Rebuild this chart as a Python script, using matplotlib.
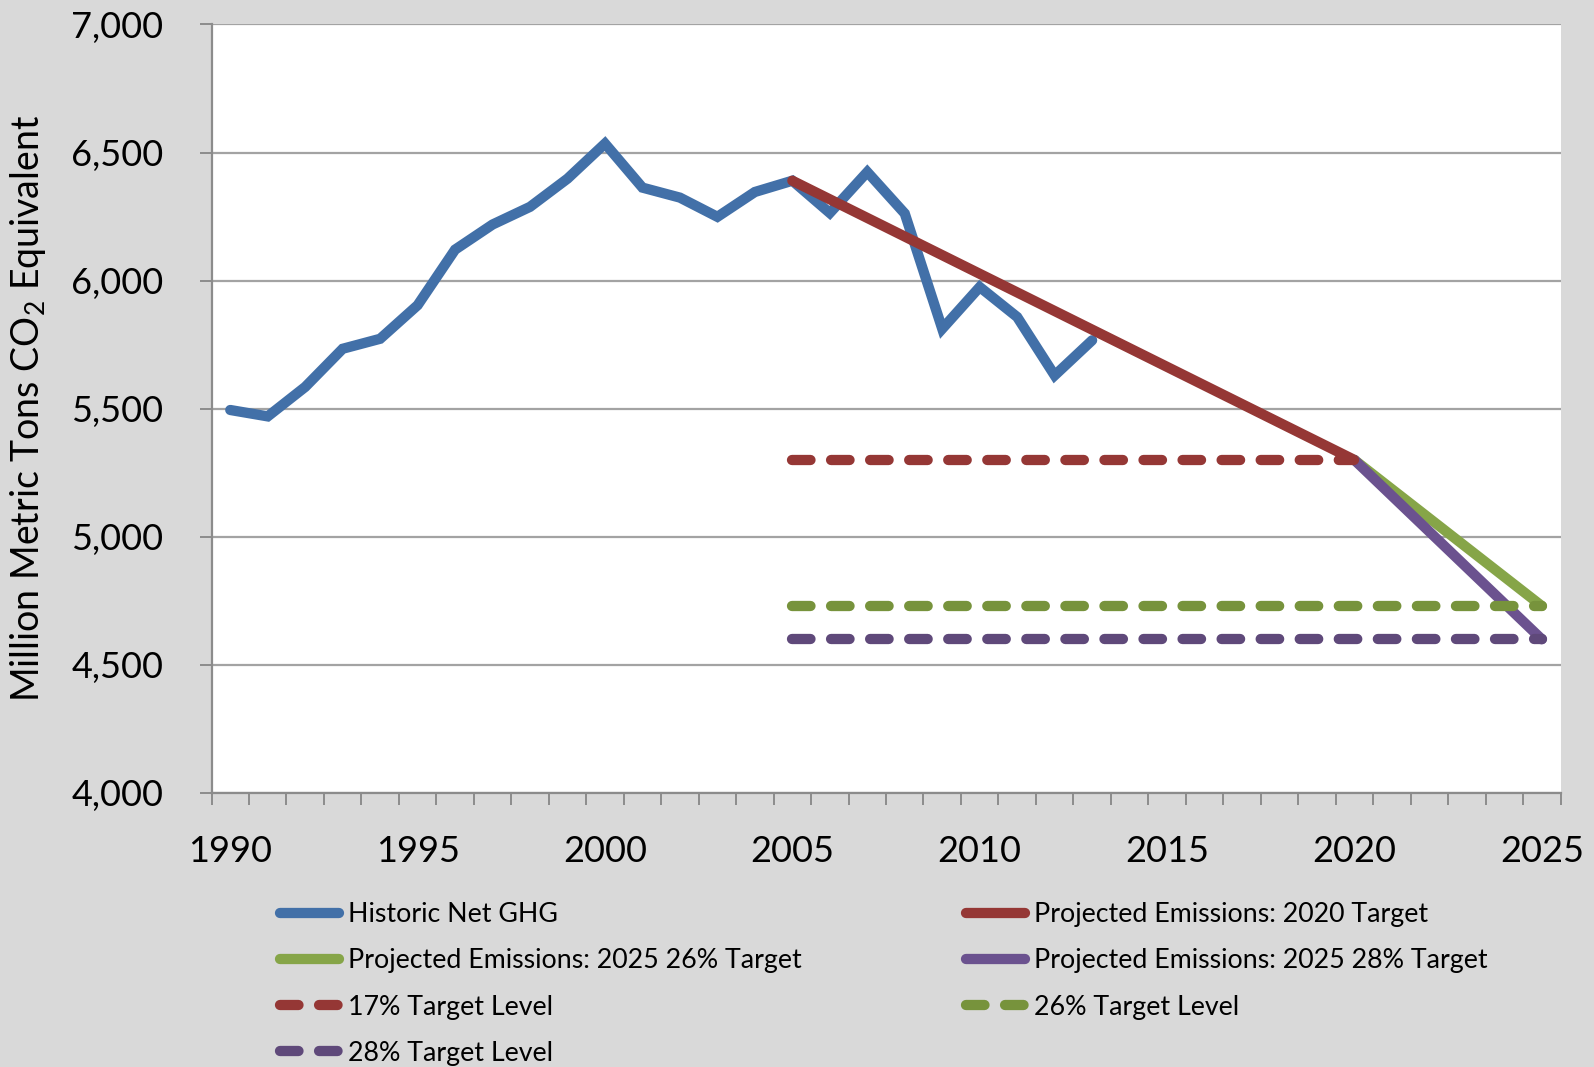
import numpy as np
import matplotlib
matplotlib.use("Agg")
import matplotlib.pyplot as plt
from matplotlib.ticker import FuncFormatter, MultipleLocator

plt.rcParams['font.family'] = ['Lato', 'DejaVu Sans']
plt.rcParams['mathtext.fontset'] = 'custom'
plt.rcParams['mathtext.rm'] = 'Lato'

# data (million metric tons CO2 eq.)
hist_years = list(range(1990, 2014))
hist_values = [5495, 5470, 5585, 5734, 5773, 5904, 6121, 6219, 6288, 6398,
               6535, 6363, 6324, 6249, 6346, 6390, 6264, 6424, 6262, 5812,
               5975, 5858, 5630, 5767]

proj2020_years = [2005, 2020]
proj2020_values = [6390, 5300]

proj26_years = [2020, 2025]
proj26_values = [5300, 4730]

proj28_years = [2020, 2025]
proj28_values = [5300, 4600]

lvl17_years = [2005, 2020]
lvl17_values = [5300, 5300]
lvl26_years = [2005, 2025]
lvl26_values = [4730, 4730]
lvl28_years = [2005, 2025]
lvl28_values = [4600, 4600]

year_labels = [1990, 1995, 2000, 2005, 2010, 2015, 2020, 2025]

BG = '#D9D9D9'
GRID = '#A3A3A3'
LW = 7.4
DASH = (1.8, 2.0)

fig = plt.figure(figsize=(15.94, 10.67), dpi=100, facecolor=BG)
ax = fig.add_axes([0.1327, 0.2568, 0.979 - 0.1327, 0.9771 - 0.2568])
ax.set_facecolor('white')

def solid(x, y, c, label):
    return ax.plot(x, y, color=c, lw=LW, solid_capstyle='round',
                   solid_joinstyle='miter', label=label)[0]

def dashed(x, y, c, label):
    return ax.plot(x, y, color=c, lw=LW, dashes=DASH, dash_capstyle='round',
                   label=label)[0]

h_hist = solid(hist_years, hist_values, '#4270A8', 'Historic Net GHG')
h_p20 = solid(proj2020_years, proj2020_values, '#953735', 'Projected Emissions: 2020 Target')
h_p26 = solid(proj26_years, proj26_values, '#86A548', 'Projected Emissions: 2025 26% Target')
h_p28 = solid(proj28_years, proj28_values, '#6B528F', 'Projected Emissions: 2025 28% Target')
h_l17 = dashed(lvl17_years, lvl17_values, '#953735', '17% Target Level')
h_l26 = dashed(lvl26_years, lvl26_values, '#77933C', '26% Target Level')
h_l28 = dashed(lvl28_years, lvl28_values, '#5F497A', '28% Target Level')

ax.set_xlim(1989.5, 2025.5)
ax.set_ylim(4000, 7000)

ax.yaxis.set_major_locator(MultipleLocator(500))
ax.yaxis.set_major_formatter(FuncFormatter(lambda v, p: f"{int(v):,}"))
ax.grid(axis='y', color=GRID, lw=1.6)
ax.set_axisbelow(True)

ax.set_xticks(year_labels)
ax.set_xticklabels([str(y) for y in year_labels])
ax.set_xticks(np.arange(1989.5, 2026, 1.0), minor=True)
ax.tick_params(axis='x', which='major', length=0, pad=30, labelsize=26)
ax.tick_params(axis='x', which='minor', length=8.5, width=1.4, color='#8C8C8C')
ax.tick_params(axis='y', which='major', length=8.5, width=1.4, color='#8C8C8C',
               pad=26, labelsize=26)

for s in ['top', 'right']:
    ax.spines[s].set_visible(False)
for s in ['left', 'bottom']:
    ax.spines[s].set_color('#8C8C8C')
    ax.spines[s].set_linewidth(1.6)

fig.text(0.0173, 0.617, r"Million Metric Tons CO$_{\mathregular{2}}$ Equivalent",
         rotation=90, ha='center', va='center', fontsize=27)

leg_kw = dict(frameon=False, fontsize=19.3, borderpad=0, borderaxespad=0,
              handlelength=2.2, handletextpad=0.35, labelspacing=0.79)
fig.legend(handles=[h_hist, h_p26, h_l17, h_l28], loc='upper left',
           bbox_to_anchor=(0.1754, 0.1545), **leg_kw)
fig.legend(handles=[h_p20, h_p28, h_l26], loc='upper left',
           bbox_to_anchor=(0.6058, 0.1545), **leg_kw)

fig.savefig('out.png', dpi=100, facecolor=BG)
